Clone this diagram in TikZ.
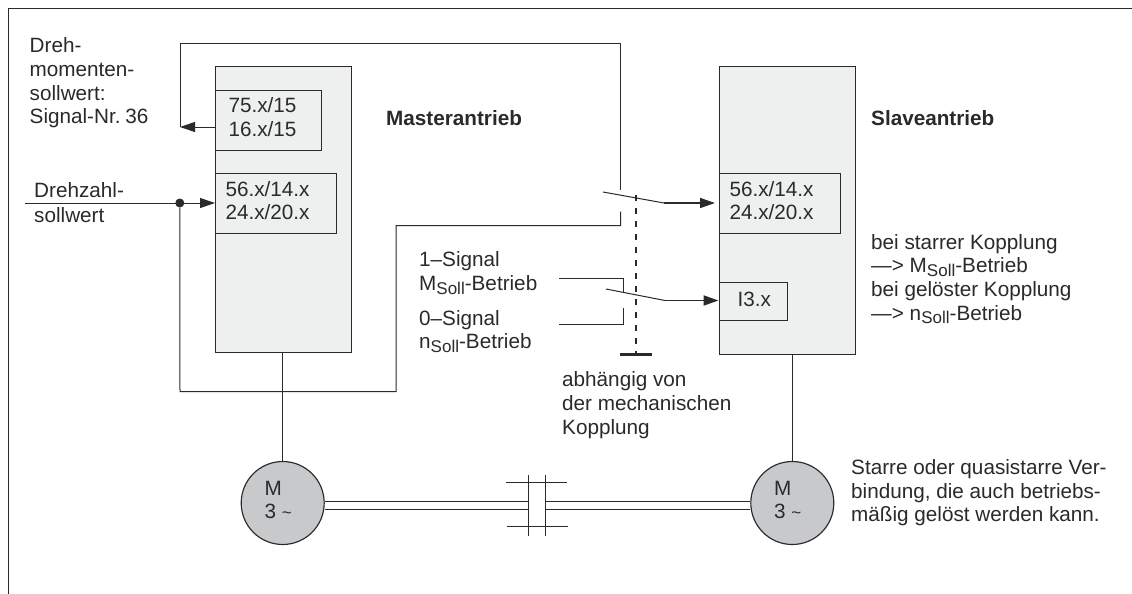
\documentclass[tikz,border=0pt]{standalone}
\usepackage{fontspec}
\setmainfont{Liberation Sans}
\usetikzlibrary{arrows.meta}
\definecolor{ink}{HTML}{2A2A2A}
\definecolor{boxfill}{HTML}{EEF0EF}
\definecolor{motorfill}{HTML}{C8C9CB}
\tikzset{
  wire/.style={draw=ink,line width=1pt},
  flow/.style={wire,-{Triangle[length=15pt,width=10pt]}},
  thin wire/.style={draw=ink,line width=.9pt},
  drive/.style={rectangle,draw=ink,line width=1pt,fill=boxfill,anchor=north west,inner sep=0pt},
  cell/.style={rectangle,draw=ink,line width=1pt,fill=boxfill,anchor=north west,inner ysep=0pt,align=left,
     font=\fontsize{20.7}{23.5}\selectfont,text=ink},
  motor/.style={circle,draw=ink,line width=1.15pt,fill=motorfill,minimum size=83pt,inner sep=0pt},
  txt/.style={font=\fontsize{20.7}{23.7}\selectfont,text=ink,align=left,anchor=north west,inner sep=0pt},
}
\newcommand{\fl}{\rule{0pt}{15pt}}
\newcommand{\dpt}[1]{\rule[-#1pt]{0pt}{#1pt}}
\newcommand{\subsoll}{\raisebox{-3.5pt}{\fontsize{17}{17}\selectfont Soll}}
\begin{document}
\begin{tikzpicture}[x=1pt,y=-1pt]
\useasboundingbox (0,0) rectangle (1132,594);
\fill[white] (0,0) rectangle (1132,594);
\draw[draw=ink,line width=1.8pt] (8.5,594) -- (8.5,8.5) -- (1132,8.5);
% drive boxes
\node[drive,minimum width=135.5pt,minimum height=285.5pt] (master) at (215,66.5) {};
\node[drive,minimum width=136.5pt,minimum height=287pt] (slave) at (718.5,66.5) {};
% cells
\node[cell,minimum width=105.5pt,minimum height=60pt,inner xsep=13pt,text width=79.5pt] (mout) at (215,89.5) {75.x/15\\16.x/15\dpt{6}};
\node[cell,minimum width=121pt,minimum height=60.5pt,inner xsep=10pt,text width=101pt] (min) at (215,172.5) {56.x/14.x\\24.x/20.x\dpt{6}};
\node[cell,minimum width=121pt,minimum height=60.5pt,inner xsep=10.5pt,text width=100pt] (sin) at (718.5,172.5) {56.x/14.x\\24.x/20.x\dpt{6}};
\node[cell,minimum width=68.5pt,minimum height=38pt,inner xsep=18.5pt,text width=31.5pt] (sbit) at (718.5,282) {I3.x\dpt{5}};
% motors
\node[motor] (ml) at (282.7,503) {};
\node[motor] (mr) at (792.3,503) {};
\node[txt] (mlm) at (264.5,480) {\fl M\\3 {\fontsize{17}{17}\selectfont\char"007E}};
\node[txt] (mrm) at (774,480) {\fl M\\3 {\fontsize{17}{17}\selectfont\char"007E}};
% motor feeds
\draw[wire] (master.south -| ml.north) -- (ml.north);
\draw[wire] (slave.south -| mr.north) -- (mr.north);
% junction and coordinates
\coordinate (in) at (25,203);
\node[circle,fill=ink,minimum size=9pt,inner sep=0pt] (dot) at (179.8,203) {};
\coordinate (ret) at (180,127);
\coordinate (mo) at (215,127);
\coordinate (topl) at (180,44);
\coordinate (topr) at (620.7,44);
\coordinate (ca) at (620.7,190);
\coordinate (cb) at (620.7,211.5);
\coordinate (cc) at (620.7,225.7);
\coordinate (cd) at (396,225.7);
\coordinate (ce) at (396,391.7);
\coordinate (cf) at (180,391.7);
% setpoint input
\draw[flow] (in) -- (in -| min.west);
% torque setpoint feedback
\draw[flow] (mo) -- (ret);
\draw[wire] (ret) -- (topl) -- (topr) -- (ca);
\draw[wire] (cb) -- (cc) -- (cd) -- (ce) -- (cf) -- (dot);
% switch 1
\coordinate (s1a) at (603,192);
\coordinate (s1b) at (664,203);
\coordinate (s1c) at (715,203);
\draw[wire] (s1a) -- (s1b);
\draw[flow,line width=1.5pt] (s1b) -- (s1c);
% switch 2
\coordinate (s2a) at (606,289);
\coordinate (s2b) at (665,300.5);
\coordinate (s2c) at (718.5,300.5);
\draw[wire] (s2a) -- (s2b);
\draw[flow,line width=1.9pt] (s2b) -- (s2c);
% mode contacts
\coordinate (k1) at (559,278);
\coordinate (k2) at (623.3,278);
\coordinate (k3) at (623.3,293);
\coordinate (k4) at (559,324);
\coordinate (k5) at (623.3,324);
\coordinate (k6) at (623.3,308);
\draw[wire] (k1) -- (k2) -- (k3);
\draw[wire] (k4) -- (k5) -- (k6);
% mechanical link
\coordinate (ld) at (636,195);
\coordinate (le) at (636,353.5);
\coordinate (lf) at (620,354.5);
\coordinate (lg) at (652,354.5);
\draw[draw=ink,line width=1.4pt,dash pattern=on 6pt off 7pt] (ld) -- (le);
\draw[draw=ink,line width=2.2pt] (lf) -- (lg);
% shafts
\coordinate (sa) at (528,501.3);
\coordinate (sb) at (528,509);
\coordinate (sc) at (545,501.3);
\coordinate (sd) at (545,509);
\draw[wire] (ml.east |- sa) -- (sa);
\draw[wire] (ml.east |- sb) -- (sb);
\draw[wire] (sc) -- (mr.west |- sc);
\draw[wire] (sd) -- (mr.west |- sd);
% coupling
\coordinate (v1) at (528,475);
\coordinate (v2) at (528,535.7);
\coordinate (v3) at (545,475);
\coordinate (v4) at (545,535.7);
\coordinate (h1) at (506,482.7);
\coordinate (h2) at (567,482.7);
\coordinate (h3) at (506.7,526);
\coordinate (h4) at (568,526);
\draw[thin wire] (v1) -- (v2);
\draw[thin wire] (v3) -- (v4);
\draw[thin wire] (h1) -- (h2);
\draw[thin wire] (h3) -- (h4);
% labels
\node[txt] (t1) at (29.5,37.5) {\fl Dreh-\\momenten-\\sollwert:\\Signal-Nr.\kern-1pt\ 36};
\node[txt] (t2) at (34,182) {\fl Drehzahl-};
\node[txt] (t3) at (34,207) {\fl sollwert};
\node[txt,font=\fontsize{20.7}{23.7}\selectfont\bfseries] (t4) at (386,110) {\fl Masterantrieb};
\node[txt,font=\fontsize{20.7}{23.7}\selectfont\bfseries] (t5) at (871,110) {\fl Slaveantrieb};
\node[txt] (t6) at (419,251.7) {\fl 1–Signal\\M\subsoll-Betrieb};
\node[txt] (t7) at (419,310) {\fl 0–Signal\\n\subsoll-Betrieb};
\node[txt] (t8) at (562,371.7) {\fl abhängig von\\der mechanischen\\Kopplung};
\node[txt] (t9) at (871,234) {\fl bei starrer Kopplung\\—> M\subsoll-Betrieb\\bei gelöster Kopplung\\—> n\subsoll-Betrieb};
\node[txt] (t10) at (851,459.3) {\fl Starre oder quasistarre Ver-\\bindung, die auch betriebs-\\mäßig gelöst werden kann.};
\end{tikzpicture}
\end{document}
